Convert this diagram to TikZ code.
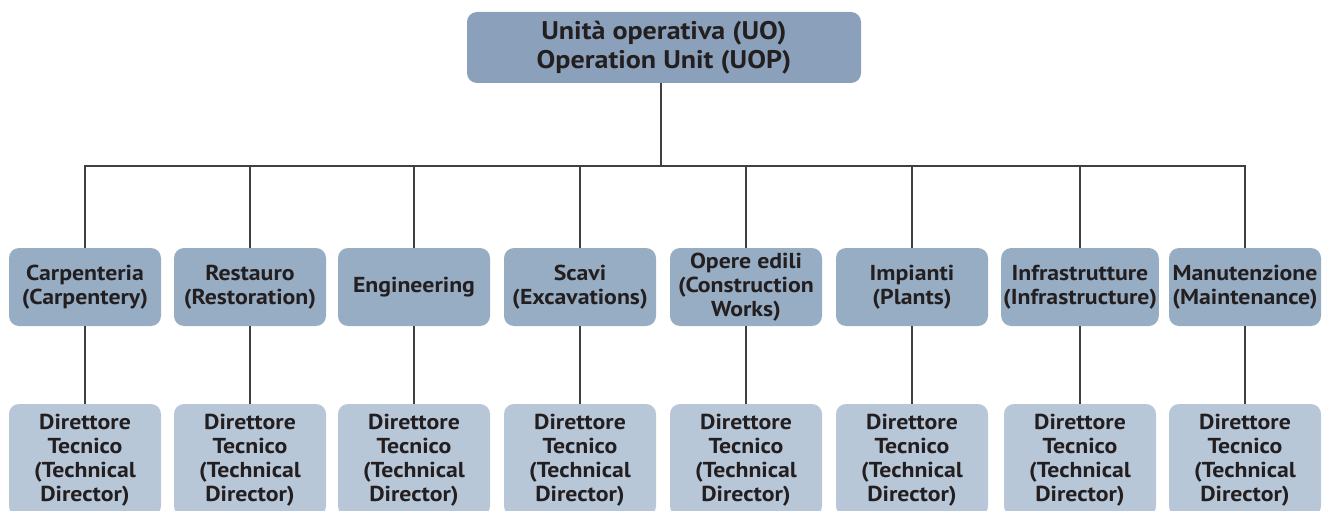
\documentclass[tikz,border=0pt]{standalone}
\usepackage{fontspec}
\setmainfont[FakeStretch=1.1]{PT Sans}
\usepackage{tikz}
\usetikzlibrary{shapes,arrows}
\definecolor{topblue}{HTML}{8AA0BB}
\definecolor{midblue}{HTML}{97ADC4}
\definecolor{lowblue}{HTML}{B8C7D8}
\definecolor{inkgray}{HTML}{231F20}
\tikzstyle{line} = [draw, color=black!75, line width=0.8pt]
\tikzstyle{unit} = [rectangle, fill=topblue, rounded corners=0.2cm, text=inkgray,
    minimum width=7.88cm, minimum height=1.42cm, align=center,
    font=\fontsize{14.5}{16.5}\selectfont\bfseries]
\tikzstyle{branch} = [rectangle, fill=midblue, rounded corners=0.2cm, text=inkgray,
    minimum width=3.04cm, minimum height=1.56cm, align=center, inner sep=1pt,
    font=\fontsize{12.3}{13.7}\selectfont\bfseries]
\tikzstyle{director} = [rectangle, fill=lowblue, rounded corners=0.2cm, text=inkgray,
    minimum width=3.04cm, minimum height=2.24cm, align=center, inner sep=1pt,
    font=\fontsize{12.3}{13.7}\selectfont\bfseries]

\begin{document}
\begin{tikzpicture}
[node distance = 3.46cm]
    \useasboundingbox (0,0) rectangle (26.44,-10.22);
    % Place nodes
    \node [unit] (uo) at (13.28,-0.95) {Unità operativa (UO)\\Operation Unit (UOP)};
    \coordinate (bus) at (13.22,-3.32);

    \node [branch] (carp) at (1.70,-5.74) {Carpenteria\\(Carpentery)};
    \node [branch] (rest) at (5.00,-5.74) {Restauro\\(Restoration)};
    \node [branch] (eng) at (8.28,-5.74) {Engineering};
    \node [branch] (scavi) at (11.60,-5.74) {Scavi\\(Excavations)};
    \node [branch] (edili) at (14.92,-5.74) {Opere edili\\(Construction\\Works)};
    \node [branch] (impi) at (18.24,-5.74) {Impianti\\(Plants)};
    \node [branch] (infra) at (21.60,-5.74) {Infrastrutture\\(Infrastructure)};
    \node [branch] (manu) at (24.90,-5.74) {Manutenzione\\(Maintenance)};

    \node [director, below of=carp] (dcarp) {Direttore\\Tecnico\\(Technical\\Director)};
    \node [director, below of=rest] (drest) {Direttore\\Tecnico\\(Technical\\Director)};
    \node [director, below of=eng] (deng) {Direttore\\Tecnico\\(Technical\\Director)};
    \node [director, below of=scavi] (dscavi) {Direttore\\Tecnico\\(Technical\\Director)};
    \node [director, below of=edili] (dedili) {Direttore\\Tecnico\\(Technical\\Director)};
    \node [director, below of=impi] (dimpi) {Direttore\\Tecnico\\(Technical\\Director)};
    \node [director, below of=infra] (dinfra) {Direttore\\Tecnico\\(Technical\\Director)};
    \node [director, below of=manu] (dmanu) {Direttore\\Tecnico\\(Technical\\Director)};

    % Draw edges
    \path [line] (uo.south -| bus) -- (bus);
    \path [line] (carp.north) |- (bus) -| (manu.north);
    \path [line] (rest.north) -- (rest.north |- bus);
    \path [line] (eng.north) -- (eng.north |- bus);
    \path [line] (scavi.north) -- (scavi.north |- bus);
    \path [line] (edili.north) -- (edili.north |- bus);
    \path [line] (impi.north) -- (impi.north |- bus);
    \path [line] (infra.north) -- (infra.north |- bus);

    \path [line] (carp) -- (dcarp);
    \path [line] (rest) -- (drest);
    \path [line] (eng) -- (deng);
    \path [line] (scavi) -- (dscavi);
    \path [line] (edili) -- (dedili);
    \path [line] (impi) -- (dimpi);
    \path [line] (infra) -- (dinfra);
    \path [line] (manu) -- (dmanu);

\end{tikzpicture}
\end{document}
